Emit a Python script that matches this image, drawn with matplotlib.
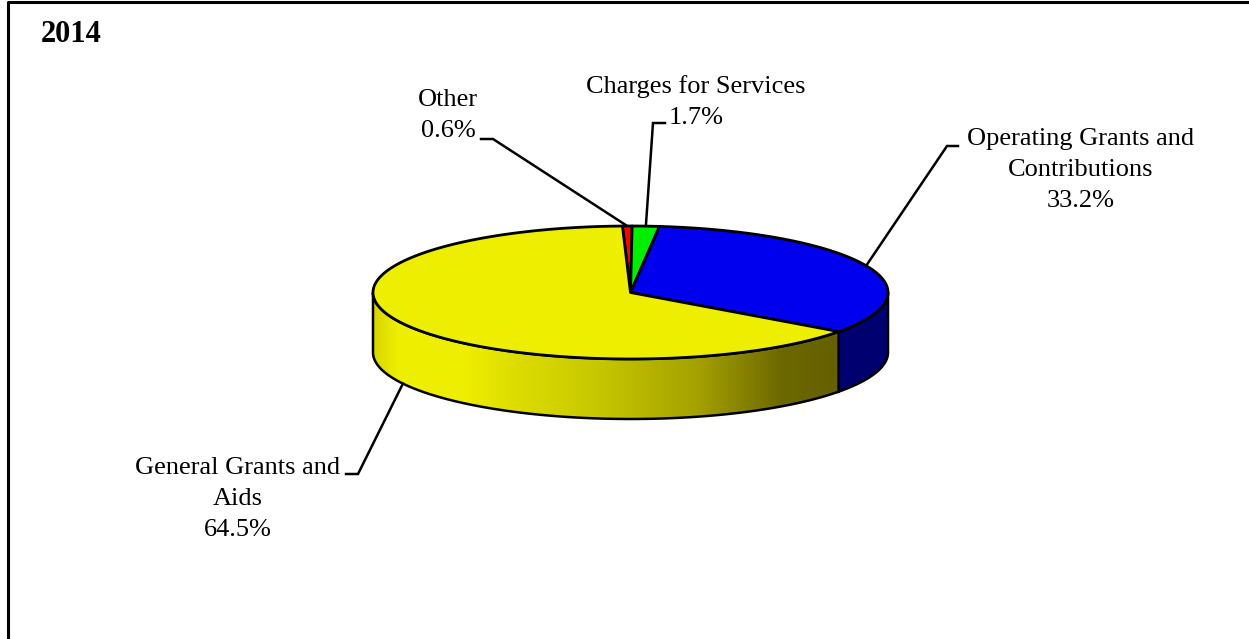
import numpy as np
import matplotlib
matplotlib.use("Agg")
import matplotlib.pyplot as plt
from matplotlib.colors import LinearSegmentedColormap
from matplotlib.patches import Polygon

plt.rcParams['font.family'] = ['Liberation Serif', 'DejaVu Serif']

title = "2014"
categories = ["Other", "Charges for Services", "Operating Grants and\nContributions", "General Grants and\nAids"]
shares = [0.6, 1.7, 33.2, 64.5]
colors = ["#ff0000", "#00ee00", "#0000ee", "#eeee00"]

W, H = 1249, 639
CX, CY = 630.5, 292.5
RX, RY = 257.5, 66.5
DEPTH = 60
START = -1.8
FONT = 19
PITCH = 31

fig = plt.figure(figsize=(W / 100, H / 100), dpi=100)
ax = fig.add_axes([0, 0, 1, 1])


def rim(t):
  t = np.radians(t)
  return CX + RX * np.sin(t), CY - RY * np.cos(t)


def arc(t0, t1, drop=0):
  x, y = rim(np.linspace(t0, t1, 200))
  return np.column_stack([x, y + drop])


edges = START + np.concatenate([[0], np.cumsum(shares)]) * 3.6

# outer wall, only the part of the rim facing the viewer
wall_cmap = LinearSegmentedColormap.from_list("wall", [
  (0.0, "#d6d600"), (0.05, "#eeee00"), (0.2, "#eeee00"), (0.28, "#e0e000"),
  (0.49, "#c6c600"), (0.7, "#a4a000"), (0.88, "#6c6800"), (1.0, "#666000")])
wall_left = 90 + 180
blue_t1 = edges[3]

front = np.vstack([arc(blue_t1, wall_left), arc(blue_t1, wall_left, DEPTH)[::-1]])
wall_poly = Polygon(front, closed=True, transform=ax.transData, fc="none", ec="none")
ax.add_patch(wall_poly)
grad = np.linspace(0, 1, 512).reshape(1, -1)
x_wall_left, x_wall_right = CX - RX, rim(blue_t1)[0]
img = ax.imshow(grad, cmap=wall_cmap, extent=[x_wall_left, x_wall_right, CY + RY + DEPTH, CY], aspect="auto", zorder=1)
img.set_clip_path(wall_poly)
ax.add_patch(Polygon(front, closed=True, fc="none", ec="black", lw=1.8, zorder=2))

right = np.vstack([arc(blue_t1, 90), arc(blue_t1, 90, DEPTH)[::-1]])
ax.add_patch(Polygon(right, closed=True, fc="#000070", ec="black", lw=1.8, zorder=2))

# top face wedges
for i, c in enumerate(colors):
  pts = np.vstack([[CX, CY], arc(edges[i], edges[i + 1])])
  ax.add_patch(Polygon(pts, closed=True, fc=c, ec="black", lw=2.0, joinstyle="round", zorder=3))

# labels with elbow leaders, anchored at the middle of each slice
label_pos = [(448, 100), (696, 87), (1081, 139), (238, 468)]
elbows = [[(481, 139), (493, 139)], [(665, 123), (653, 123)], [(958, 146), (947, 146)], [(346, 474), (358, 474)]]

for i, name in enumerate(categories):
  mid = (edges[i] + edges[i + 1]) / 2
  ax_x, ax_y = rim(mid)
  if i == 3:
    ax_y += DEPTH
  path = elbows[i] + [(ax_x, ax_y)]
  ax.plot(*zip(*path), color="black", lw=1.8, zorder=2.5, solid_joinstyle="miter")
  lines = name.split("\n") + [f"{shares[i]:.1f}%"]
  x, y = label_pos[i]
  for j, line in enumerate(lines):
    ax.text(x, y + j * PITCH, line, ha="center", va="center", fontsize=FONT, color="black")

ax.text(41, 35, title, ha="left", va="center", fontsize=22, fontweight="bold", color="black")

# chart area border, open on the right and bottom
ax.plot([8.5, 8.5, W], [H, 2, 2], color="black", lw=2.2, clip_on=False, zorder=5)

ax.set_xlim(0, W)
ax.set_ylim(H, 0)
ax.axis("off")
fig.savefig("out.png", dpi=100, facecolor="white")
